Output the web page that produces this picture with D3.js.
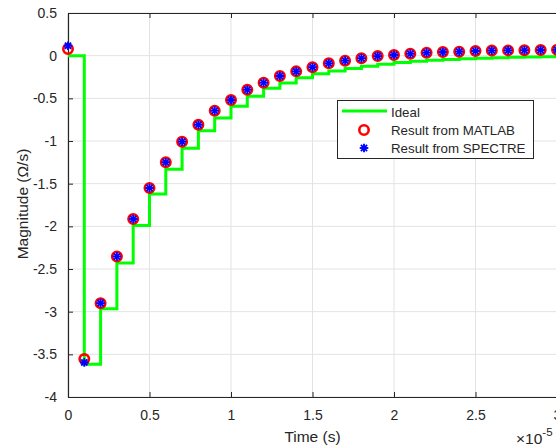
<!DOCTYPE html>
<html>
<head>
<meta charset="utf-8">
<script src="https://cdn.jsdelivr.net/npm/d3@7"></script>
<style>
body{margin:0;background:#fff;overflow:hidden}
text{font-family:"Liberation Sans",Arial,Helvetica,sans-serif;fill:#262626}
</style>
</head>
<body>
<svg id="chart" width="556" height="448"></svg>
<script>
// sample times in microseconds
var sampleTimes = [0,1,2,3,4,5,6,7,8,9,10,11,12,13,14,15,16,17,18,19,20,21,22,23,24,25,26,27,28,29,30];

// ideal staircase level held from t to t+1 (us)
var idealValues = [0,-3.615,-2.966,-2.43,-1.99,-1.62,-1.33,-1.086,-0.88,-0.73,-0.594,-0.477,-0.383,
    -0.32,-0.26,-0.212,-0.18,-0.15,-0.125,-0.10,-0.08,-0.066,-0.054,-0.044,-0.036,-0.03,-0.024,
    -0.02,-0.016,-0.013,-0.01];

var matlabValues = [0.078,-3.556,-2.90,-2.353,-1.914,-1.551,-1.248,-1.008,-0.81,-0.645,-0.52,-0.40,
    -0.317,-0.238,-0.184,-0.135,-0.09,-0.059,-0.03,-0.005,0.008,0.023,0.035,0.043,0.047,0.055,
    0.06,0.062,0.064,0.066,0.068];

var spectreValues = [0.117,-3.595,-2.90,-2.353,-1.914,-1.551,-1.248,-1.008,-0.81,-0.645,-0.52,-0.40,
    -0.317,-0.238,-0.184,-0.135,-0.09,-0.059,-0.03,-0.005,0.008,0.023,0.035,0.043,0.047,0.055,
    0.06,0.062,0.064,0.066,0.068];

var xTicks = [0,0.5e-5,1e-5,1.5e-5,2e-5,2.5e-5,3e-5];
var yTicks = [0.5,0,-0.5,-1,-1.5,-2,-2.5,-3,-3.5,-4];
var legendNames = ["Ideal","Result from MATLAB","Result from SPECTRE"];

var svg = d3.select("#chart");
var plotLeft = 68, plotRight = 557, plotTop = 13, plotBottom = 397;
var axisColor = "#262626";

var x = d3.scaleLinear().domain([0,3e-5]).range([plotLeft,plotRight]);
var y = d3.scaleLinear().domain([-4,0.5]).range([plotBottom,plotTop]);

var ideal = sampleTimes.map(function(t,i){ return {t:t*1e-6, v:idealValues[i]}; });
var matlab = sampleTimes.map(function(t,i){ return {t:t*1e-6, v:matlabValues[i]}; });
var spectre = sampleTimes.map(function(t,i){ return {t:t*1e-6, v:spectreValues[i]}; });

//grid
svg.append("g").selectAll("line")
    .data(xTicks)
    .join("line")
    .attr("x1",function(d){ return x(d); })
    .attr("x2",function(d){ return x(d); })
    .attr("y1",plotTop).attr("y2",plotBottom)
    .attr("stroke","#e3e3e3").attr("stroke-width",1);
svg.append("g").selectAll("line")
    .data(yTicks)
    .join("line")
    .attr("x1",plotLeft).attr("x2",plotRight)
    .attr("y1",function(d){ return y(d); })
    .attr("y2",function(d){ return y(d); })
    .attr("stroke","#e3e3e3").attr("stroke-width",1);

//axes (ticks inward)
var fmtX = function(d){ return String(+(d/1e-5).toFixed(2)); };
var bottomAxis = d3.axisBottom(x).tickValues(xTicks).tickFormat(fmtX).tickSizeInner(-5).tickSizeOuter(0).tickPadding(13);
var topAxis = d3.axisTop(x).tickValues(xTicks).tickFormat("").tickSizeInner(-5).tickSizeOuter(0);
var leftAxis = d3.axisLeft(y).tickValues(yTicks).tickFormat(function(d){ return String(d); }).tickSizeInner(-5).tickSizeOuter(0).tickPadding(11);

function styleAxis(g){
    g.select(".domain").attr("stroke",axisColor).attr("stroke-width",1.2);
    g.selectAll(".tick line").attr("stroke",axisColor);
    g.selectAll(".tick text").attr("fill",axisColor).attr("font-size",14)
        .attr("font-family","'Liberation Sans',Arial,sans-serif");
}
svg.append("g").attr("transform","translate(0,"+plotBottom+")").call(bottomAxis).call(styleAxis);
svg.append("g").attr("transform","translate(0,"+plotTop+")").call(topAxis).call(styleAxis);
svg.append("g").attr("transform","translate("+plotLeft+",0)").call(leftAxis).call(styleAxis);

//ideal staircase
var stairs = d3.line()
    .x(function(d){ return x(d.t); })
    .y(function(d){ return y(d.v); })
    .curve(d3.curveStepAfter);
svg.append("path")
    .datum(ideal)
    .attr("d",stairs)
    .attr("fill","none")
    .attr("stroke","#00ff00")
    .attr("stroke-width",3);

//MATLAB circles
svg.append("g").selectAll("circle")
    .data(matlab)
    .join("circle")
    .attr("cx",function(d){ return x(d.t); })
    .attr("cy",function(d){ return y(d.v); })
    .attr("r",4.7)
    .attr("fill","none")
    .attr("stroke","#ff0000")
    .attr("stroke-width",2.6);

//SPECTRE asterisks
function asterisk(g,cx,cy,s){
    var a = [[s,0],[0,s],[s*0.72,s*0.72],[s*0.72,-s*0.72]];
    a.forEach(function(p){
        g.append("line")
            .attr("x1",cx-p[0]).attr("y1",cy-p[1])
            .attr("x2",cx+p[0]).attr("y2",cy+p[1])
            .attr("stroke","#0000ff").attr("stroke-width",1.9);
    });
}
var starG = svg.append("g");
spectre.forEach(function(d){ asterisk(starG,x(d.t),y(d.v),4.3); });

//legend
var lg = svg.append("g");
lg.append("rect").attr("x",337.5).attr("y",100.5).attr("width",196).attr("height",58)
    .attr("fill","#fff").attr("stroke",axisColor).attr("stroke-width",1);
lg.append("line").attr("x1",342).attr("x2",387).attr("y1",111).attr("y2",111)
    .attr("stroke","#00ff00").attr("stroke-width",3);
lg.append("circle").attr("cx",364).attr("cy",130).attr("r",4.7)
    .attr("fill","none").attr("stroke","#ff0000").attr("stroke-width",2.6);
asterisk(lg,364,148,4.3);
lg.selectAll("text")
    .data(legendNames)
    .join("text")
    .attr("x",391)
    .attr("y",function(d,i){ return 116.5 + i*18.3; })
    .attr("font-size",13.3)
    .text(function(d){ return d; });

//labels
svg.append("text").attr("x",312.5).attr("y",442).attr("text-anchor","middle")
    .attr("font-size",15.5).text("Time (s)");
svg.append("text").attr("transform","translate(28,204) rotate(-90)").attr("text-anchor","middle")
    .attr("font-size",15.5).text("Magnitude (\u03A9/s)");
var ex = svg.append("text").attr("x",516).attr("y",444).attr("font-size",15.5);
ex.append("tspan").text("\u00D710");
ex.append("tspan").attr("dy",-8).attr("font-size",11.5).text("-5");
</script>
</body>
</html>
